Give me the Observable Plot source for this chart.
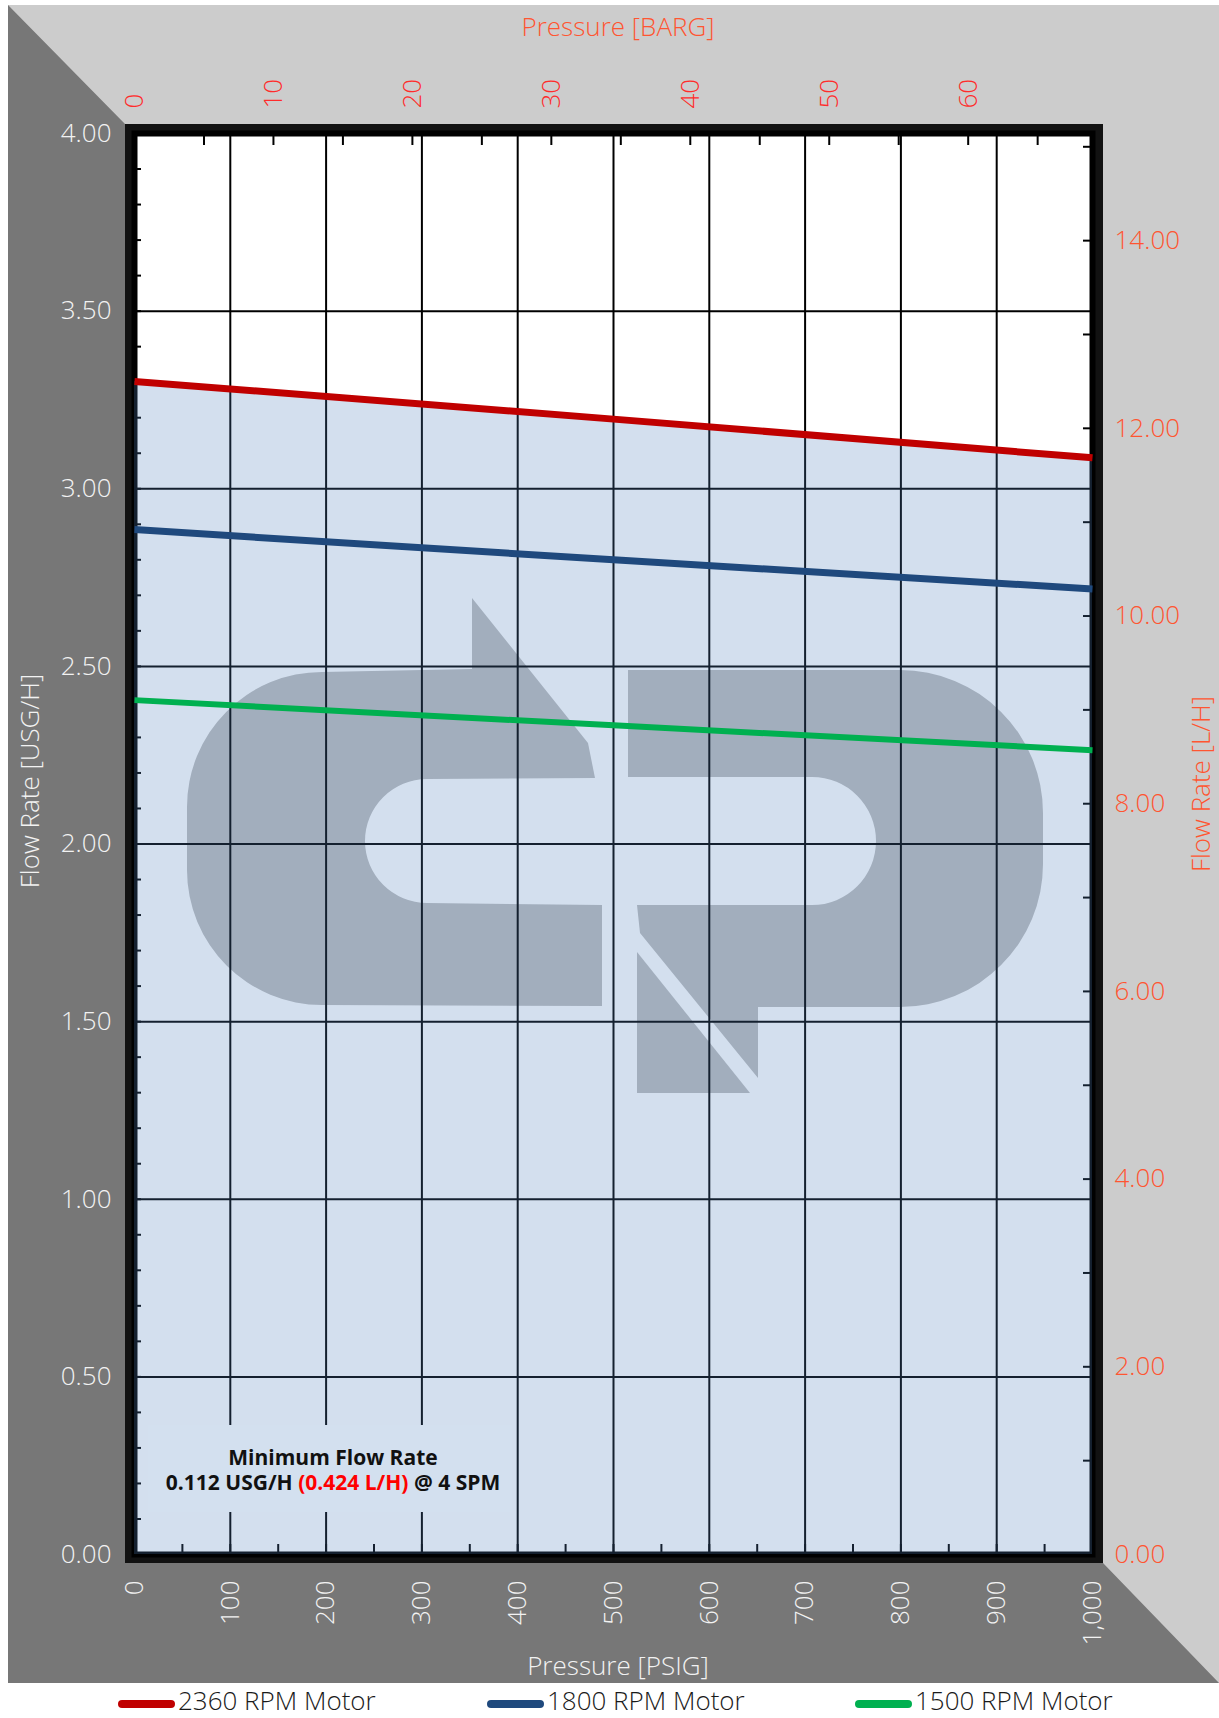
<!DOCTYPE html>
<html>
<head>
<meta charset="utf-8">
<script src="https://cdn.jsdelivr.net/npm/d3@7"></script>
<script src="https://cdn.jsdelivr.net/npm/@observablehq/plot@0.6"></script>
<style>
  html, body { margin: 0; padding: 0; background: #ffffff; }
  #wrap { position: relative; width: 1219px; height: 1718px; overflow: hidden; font-family: "Open Sans", sans-serif; }
  #wrap > svg { position: absolute; left: 0; top: 0; }
</style>
</head>
<body>
<div id="wrap"></div>
<script>
// ---------------- DATA ----------------
const seriesNames  = ["2360 RPM Motor", "1800 RPM Motor", "1500 RPM Motor"];
const seriesColors = ["#c00000", "#1f497d", "#00b050"];
const pressurePsi  = [0, 500, 1000];          // PSIG
const flow2360     = [3.302, 3.196, 3.087];   // USG/H
const flow1800     = [2.885, 2.800, 2.718];   // USG/H
const flow1500     = [2.405, 2.334, 2.264];   // USG/H

const psiTicks = [0, 100, 200, 300, 400, 500, 600, 700, 800, 900, 1000];
const usgTicks = [0, 0.5, 1, 1.5, 2, 2.5, 3, 3.5, 4];
const barTicks = [0, 10, 20, 30, 40, 50, 60];
const lphTicks = [0, 2, 4, 6, 8, 10, 12, 14];

const titleTop    = "Pressure [BARG]";
const titleBottom = "Pressure [PSIG]";
const titleLeft   = "Flow Rate [USG/H]";
const titleRight  = "Flow Rate [L/H]";
const noteTitle   = "Minimum Flow Rate";
const noteParts   = [["0.112 USG/H ", "#111111"], ["(0.424 L/H)", "#ff0000"], [" @ 4 SPM", "#111111"]];

// unit conversions
const PSI_PER_BAR = 14.5038;
const L_PER_USG   = 3.78541;

// ---------------- LAYOUT ----------------
const W = 1219, H = 1718;
const M = { left: 134, right: 127, top: 133, bottom: 164 };
const px0 = M.left, px1 = W - M.right, py0 = M.top, py1 = H - M.bottom;
const FR = { x0: 8, y0: 5, y1: 1683 };             // grey outer frame
const BD = { x0: 125, y0: 124, x1: 1103, y1: 1563 }; // black border
const FONT = "'Open Sans', sans-serif";
const WHITE_TXT = "#f2f2f2";
const ORANGE = "#ff5531";
const RED_TXT = "#ff2b2b";

// ---------------- BACKGROUND LAYER (frame + watermark logo) ----------------
const logoC = "M472 598 L588 743 L595 778 L427 779 A62 62 0 0 0 427 903 L602 905 L602 1006 L322 1005 A135 135 0 0 1 187 870 L187 808 A135 135 0 0 1 322 672 L472 669 Z";
const logoP = "M628 670 L900 670 A143 143 0 0 1 1043 813 L1043 864 A143 143 0 0 1 900 1007 L758 1007 L758 1078 L640 933 L637 905 L812 905 A64 64 0 0 0 812 777 L628 777 Z";
const logoT = "M637 952 L637 1093 L750 1093 Z";

const bgSvg = `<svg width="${W}" height="${H}" xmlns="http://www.w3.org/2000/svg">
  <rect x="${FR.x0}" y="${FR.y0}" width="${W - FR.x0}" height="${FR.y1 - FR.y0}" fill="#cccccc"/>
  <polygon points="${FR.x0},${FR.y0} ${BD.x0},${BD.y0} ${BD.x0},${BD.y1} ${BD.x1},${BD.y1} ${W},${FR.y1} ${FR.x0},${FR.y1}" fill="#777777"/>
  <rect x="${BD.x0}" y="${BD.y0}" width="${BD.x1 - BD.x0}" height="${BD.y1 - BD.y0}" fill="#121212"/>
  <rect x="${px0}" y="${py0}" width="${px1 - px0}" height="${py1 - py0}" fill="#ffffff"/>
  <path d="${logoC}" fill="#bebebe"/>
  <path d="${logoP}" fill="#bebebe"/>
  <path d="${logoT}" fill="#bebebe"/>
</svg>`;

const wrap = document.getElementById("wrap");
wrap.insertAdjacentHTML("beforeend", bgSvg);

// ---------------- PLOT ----------------
const flows = [flow2360, flow1800, flow1500];
const table = [];
seriesNames.forEach((name, i) => {
  pressurePsi.forEach((p, j) => table.push({ series: name, psi: p, usg: flows[i][j] }));
});
const bySeries = name => table.filter(d => d.series === name);
const widths = [7, 7, 6];

const tickOnly = { tickFormat: () => "", label: null, color: "#000", strokeWidth: 2 };
const txt = { tickSize: 0, label: null, fontSize: 26, fontWeight: 300, fontFamily: FONT };

const chart = Plot.plot({
  width: W,
  height: H,
  marginLeft: M.left, marginRight: M.right, marginTop: M.top, marginBottom: M.bottom,
  style: { background: "transparent", overflow: "visible", fontFamily: FONT },
  x: { domain: [0, 1000] },
  y: { domain: [0, 4] },
  color: { domain: seriesNames, range: seriesColors },
  marks: [
    Plot.gridX({ ticks: psiTicks.slice(1, -1), stroke: "#000", strokeOpacity: 1, strokeWidth: 2 }),
    Plot.gridY({ ticks: usgTicks.slice(1, -1), stroke: "#000", strokeOpacity: 1, strokeWidth: 2 }),
    Plot.frame({ stroke: "#000", strokeWidth: 6 }),
    // inward tick marks
    Plot.axisY({ anchor: "left",  ticks: d3.range(0, 4.0001, 0.1), tickSize: -7, ...tickOnly }),
    Plot.axisX({ anchor: "bottom", ticks: d3.range(0, 1001, 50), tickSize: -10, ...tickOnly }),
    Plot.axisX({ anchor: "top", ticks: d3.range(0, 70, 5).map(b => b * PSI_PER_BAR), tickSize: -11, ...tickOnly }),
    Plot.axisY({ anchor: "right", ticks: d3.range(0, 16, 1).map(l => l / L_PER_USG), tickSize: -10, ...tickOnly }),
    // shaded region under the top curve
    Plot.areaY(bySeries(seriesNames[0]), { x: "psi", y: "usg", fill: "#4f81bd", fillOpacity: 0.25 }),
    // curves
    ...seriesNames.map((name, i) =>
      Plot.line(bySeries(name), { x: "psi", y: "usg", stroke: "series", strokeWidth: widths[i], strokeLinecap: "butt" })
    ),
    // tick labels
    Plot.axisY({ anchor: "left", ticks: usgTicks, tickPadding: 23, tickFormat: d3.format(".2f"), color: WHITE_TXT, ...txt }),
    Plot.axisY({ anchor: "right", ticks: lphTicks.map(l => l / L_PER_USG), tickPadding: 22,
                 tickFormat: d => (d * L_PER_USG).toFixed(2), color: ORANGE, ...txt }),
    Plot.axisX({ anchor: "bottom", ticks: psiTicks, tickPadding: 26, tickRotate: -90,
                 tickFormat: d3.format(","), color: WHITE_TXT, ...txt }),
    Plot.axisX({ anchor: "top", ticks: barTicks.map(b => b * PSI_PER_BAR), tickPadding: 25, tickRotate: -90,
                 tickFormat: d => String(Math.round(d / PSI_PER_BAR)), color: RED_TXT, ...txt })
  ]
});
wrap.appendChild(chart);

// ---------------- OVERLAY: titles, note, legend ----------------
const NOTE = { x0: 148, y0: 1425, x1: 512, y1: 1512, cx: 333 };
const legendX = [118, 487, 855];
const legendY = 1704, legendBase = 1710;

let ov = `<svg width="${W}" height="${H}" xmlns="http://www.w3.org/2000/svg" style="pointer-events:none" font-family="${FONT}">`;
ov += `<rect x="${NOTE.x0}" y="${NOTE.y0}" width="${NOTE.x1 - NOTE.x0}" height="${NOTE.y1 - NOTE.y0}" fill="rgb(211,224,239)"/>`;
ov += `<text x="${NOTE.cx}" y="1465" text-anchor="middle" font-size="21" font-weight="700" fill="#111111">${noteTitle}</text>`;
ov += `<text x="${NOTE.cx}" y="1490" text-anchor="middle" font-size="21" font-weight="700">` +
      noteParts.map(([t, c]) => `<tspan fill="${c}">${t.replace(/ /g, "\u00a0")}</tspan>`).join("") + `</text>`;
ov += `<text x="618" y="36" text-anchor="middle" font-size="26" font-weight="300" fill="${ORANGE}">${titleTop}</text>`;
ov += `<text x="618" y="1675" text-anchor="middle" font-size="26" font-weight="300" fill="${WHITE_TXT}">${titleBottom}</text>`;
ov += `<text transform="translate(39,781) rotate(-90)" text-anchor="middle" font-size="26" font-weight="300" fill="${WHITE_TXT}">${titleLeft}</text>`;
ov += `<text transform="translate(1210,784) rotate(-90)" text-anchor="middle" font-size="26" font-weight="300" fill="${ORANGE}">${titleRight}</text>`;
seriesNames.forEach((name, i) => {
  const x = legendX[i];
  ov += `<line x1="${x + 4}" x2="${x + 53}" y1="${legendY}" y2="${legendY}" stroke="${seriesColors[i]}" stroke-width="8" stroke-linecap="round"/>`;
  ov += `<text x="${x + 60}" y="${legendBase}" font-size="26" font-weight="300" fill="#1a1a1a">${name}</text>`;
});
ov += `</svg>`;
wrap.insertAdjacentHTML("beforeend", ov);
</script>
</body>
</html>
